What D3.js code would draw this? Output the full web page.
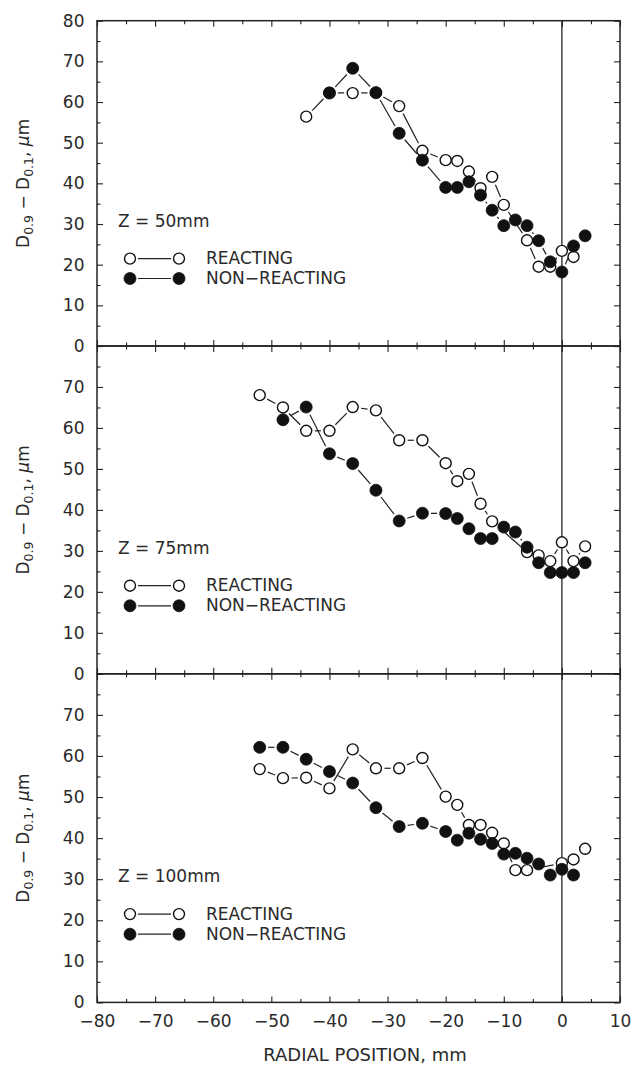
<!DOCTYPE html>
<html>
<head>
<meta charset="utf-8">
<script src="https://cdn.jsdelivr.net/npm/d3@7"></script>
<style>
  body { margin: 0; background: #fff; }
  text { font-family: "DejaVu Sans", sans-serif; fill: #2a2a2a; }
</style>
</head>
<body>
<div id="chart"></div>
<script>
// tick labels
const xTickLabels = [-80, -70, -60, -50, -40, -30, -20, -10, 0, 10];
const yTickLabels = [0, 10, 20, 30, 40, 50, 60, 70, 80];

// one panel per axial station
const zLabels = ['Z = 50mm', 'Z = 75mm', 'Z = 100mm'];
const seriesNames = ['REACTING', 'NON\u2212REACTING'];

// Z = 50mm
const react50X = [-44, -40, -36, -32, -28, -24, -20, -18, -16, -14, -12, -10, -6, -4, -2, 0, 2];
const react50Y = [56.4, 62.3, 62.2, 62.3, 59.0, 48.0, 45.7, 45.5, 42.9, 38.8, 41.6, 34.7, 26.0, 19.5, 19.5, 23.4, 21.9];
const non50X = [-40, -36, -32, -28, -24, -20, -18, -16, -14, -12, -10, -8, -6, -4, -2, 0, 2, 4];
const non50Y = [62.2, 68.3, 62.3, 52.3, 45.7, 39.0, 39.0, 40.4, 37.1, 33.4, 29.6, 31.0, 29.6, 25.9, 20.7, 18.2, 24.6, 27.1];

// Z = 75mm
const react75X = [-52, -48, -44, -40, -36, -32, -28, -24, -20, -18, -16, -14, -12, -6, -4, -2, 0, 2, 4];
const react75Y = [68.0, 65.0, 59.3, 59.3, 65.1, 64.3, 57.0, 57.0, 51.4, 47.0, 48.8, 41.5, 37.2, 29.7, 28.9, 27.5, 32.1, 27.5, 31.1];
const non75X = [-48, -44, -40, -36, -32, -28, -24, -20, -18, -16, -14, -12, -10, -8, -6, -4, -2, 0, 2, 4];
const non75Y = [62.0, 65.1, 53.7, 51.3, 44.8, 37.3, 39.2, 39.1, 37.9, 35.4, 33.0, 33.0, 35.8, 34.6, 30.9, 27.1, 24.7, 24.7, 24.7, 27.1];

// Z = 100mm
const react100X = [-52, -48, -44, -40, -36, -32, -28, -24, -20, -18, -16, -14, -12, -10, -8, -6, 0, 2, 4];
const react100Y = [56.8, 54.6, 54.7, 52.1, 61.6, 57.0, 57.0, 59.5, 50.1, 48.1, 43.2, 43.2, 41.3, 38.7, 32.2, 32.2, 33.9, 34.8, 37.4];
const non100X = [-52, -48, -44, -40, -36, -32, -28, -24, -20, -18, -16, -14, -12, -10, -8, -6, -4, -2, 0, 2];
const non100Y = [62.1, 62.1, 59.2, 56.2, 53.4, 47.4, 42.8, 43.6, 41.6, 39.5, 41.2, 39.7, 38.7, 36.1, 36.3, 35.1, 33.7, 31.0, 32.4, 31.0];

const zip = (xs, ys) => xs.map((x, i) => ({x, y: ys[i]}));

const panels = [
  {label: zLabels[0], maxLabel: 80, react: zip(react50X, react50Y), non: zip(non50X, non50Y)},
  {label: zLabels[1], maxLabel: 70, react: zip(react75X, react75Y), non: zip(non75X, non75Y)},
  {label: zLabels[2], maxLabel: 70, react: zip(react100X, react100Y), non: zip(non100X, non100Y)},
];

// layout
const width = 634;
const height = 1066;
const left = 97;
const right = 620;
const borders = [20.7, 346, 673.8, 1002.4];
const rOpen = 5.5;
const rFill = 6;

const svg = d3.select('#chart')
  .append('svg')
  .attr('width', width)
  .attr('height', height);

const x = d3.scaleLinear().domain([-80, 10]).range([left, right]);

// connecting segments stop short of the markers
const drawSegments = (g, pts, yScale) => {
  const gap = 8.5;
  for (let i = 0; i < pts.length - 1; i++) {
    const x1 = x(pts[i].x), y1 = yScale(pts[i].y);
    const x2 = x(pts[i + 1].x), y2 = yScale(pts[i + 1].y);
    const len = Math.hypot(x2 - x1, y2 - y1);
    if (len <= 2 * gap + 1) continue;
    const ux = (x2 - x1) / len, uy = (y2 - y1) / len;
    g.append('line')
      .attr('x1', x1 + ux * gap).attr('y1', y1 + uy * gap)
      .attr('x2', x2 - ux * gap).attr('y2', y2 - uy * gap)
      .attr('stroke', '#222')
      .attr('stroke-width', 1.2);
  }
};

const minorTicks = d3.range(0, 81, 5);
const xMinorTicks = d3.range(-80, 11, 5);

panels.forEach((p, i) => {
  const top = borders[i];
  const bottom = borders[i + 1];
  const y = d3.scaleLinear().domain([0, 80]).range([bottom, top]);
  const g = svg.append('g').attr('class', 'panel');

  // left axis with labels
  const yAxis = g.append('g')
    .attr('transform', `translate(${left},0)`)
    .call(d3.axisLeft(y)
      .tickValues(minorTicks)
      .tickSize(-3)
      .tickSizeOuter(0)
      .tickPadding(12.5)
      .tickFormat((d) => (d % 10 === 0 && yTickLabels.includes(d) && d <= p.maxLabel ? d : '')));
  yAxis.selectAll('.tick line').attr('x2', (d) => (d % 10 === 0 ? 6 : 3.5));

  // right axis, ticks only
  const yAxisR = g.append('g')
    .attr('transform', `translate(${right},0)`)
    .call(d3.axisRight(y).tickValues(minorTicks).tickSize(-3).tickSizeOuter(0).tickFormat(''));
  yAxisR.selectAll('.tick line').attr('x2', (d) => (d % 10 === 0 ? -6 : -3.5));

  // top and bottom tick rows
  const xTop = g.append('g')
    .attr('transform', `translate(0,${top})`)
    .call(d3.axisTop(x).tickValues(xMinorTicks).tickSize(-3).tickSizeOuter(0).tickFormat(''));
  xTop.selectAll('.tick line').attr('y2', (d) => (d % 10 === 0 ? 6 : 3.5));

  const xBot = g.append('g')
    .attr('transform', `translate(0,${bottom})`)
    .call(d3.axisBottom(x)
      .tickValues(xMinorTicks)
      .tickSize(-3)
      .tickSizeOuter(0)
      .tickPadding(12.5)
      .tickFormat((d) => (i === 2 && xTickLabels.includes(d) ? d3.format('')(d).replace('-', '\u2212') : '')));
  xBot.selectAll('.tick line').attr('y2', (d) => (d % 10 === 0 ? -6 : -3.5));

  g.selectAll('.domain').remove();
  g.selectAll('.tick line').attr('stroke', '#222').attr('stroke-width', 1.1);
  g.selectAll('.tick text')
    .attr('fill', '#333')
    .style('font-family', '"DejaVu Sans", sans-serif')
    .style('font-size', '17px');

  // frame
  g.append('rect')
    .attr('x', left).attr('y', top)
    .attr('width', right - left).attr('height', bottom - top)
    .attr('fill', 'none')
    .attr('stroke', '#222')
    .attr('stroke-width', 1.5);

  // y title
  const yt = g.append('text')
    .attr('transform', `translate(29,${(top + bottom) / 2}) rotate(-90)`)
    .attr('text-anchor', 'middle')
    .style('font-size', '17px');
  yt.append('tspan').text('D');
  yt.append('tspan').attr('dy', 4).style('font-size', '12.5px').text('0.9');
  yt.append('tspan').attr('dy', -4).text(' \u2212 D');
  yt.append('tspan').attr('dy', 4).style('font-size', '12.5px').text('0.1');
  yt.append('tspan').attr('dy', -4).text(', ');
  yt.append('tspan').style('font-style', 'italic').text('\u03bc');
  yt.append('tspan').text('m');

  // legend
  g.append('text')
    .attr('x', 118).attr('y', y(29.3))
    .style('font-size', '17px')
    .text(p.label);

  [0, 1].forEach((k) => {
    const ly = y(k === 0 ? 21.5 : 16.6);
    g.append('line')
      .attr('x1', 138).attr('x2', 171)
      .attr('y1', ly).attr('y2', ly)
      .attr('stroke', '#222').attr('stroke-width', 1.2);
    [130, 179].forEach((cx) => {
      g.append('circle')
        .attr('cx', cx).attr('cy', ly)
        .attr('r', k === 0 ? rOpen : rFill)
        .attr('fill', k === 0 ? '#fff' : '#111')
        .attr('stroke', '#111')
        .attr('stroke-width', k === 0 ? 1.4 : 0.8);
    });
    g.append('text')
      .attr('x', 206).attr('y', ly + 5.5)
      .style('font-size', '17px')
      .text(seriesNames[k]);
  });

  // data
  drawSegments(g, p.react, y);
  drawSegments(g, p.non, y);

  g.selectAll('circle.react')
    .data(p.react)
    .join('circle')
    .attr('class', 'react')
    .attr('cx', (d) => x(d.x))
    .attr('cy', (d) => y(d.y))
    .attr('r', rOpen)
    .attr('fill', '#fff')
    .attr('stroke', '#111')
    .attr('stroke-width', 1.4);

  g.selectAll('circle.non')
    .data(p.non)
    .join('circle')
    .attr('class', 'non')
    .attr('cx', (d) => x(d.x))
    .attr('cy', (d) => y(d.y))
    .attr('r', rFill)
    .attr('fill', '#111')
    .attr('stroke', '#111')
    .attr('stroke-width', 0.8);
});

// zero line across all panels
svg.append('line')
  .attr('x1', x(0)).attr('x2', x(0))
  .attr('y1', borders[0]).attr('y2', borders[3])
  .attr('stroke', '#222')
  .attr('stroke-width', 1.3)
  .lower();

// x title
svg.append('text')
  .attr('x', 365).attr('y', 1061)
  .attr('text-anchor', 'middle')
  .style('font-size', '18px')
  .text('RADIAL POSITION, mm');
</script>
</body>
</html>
